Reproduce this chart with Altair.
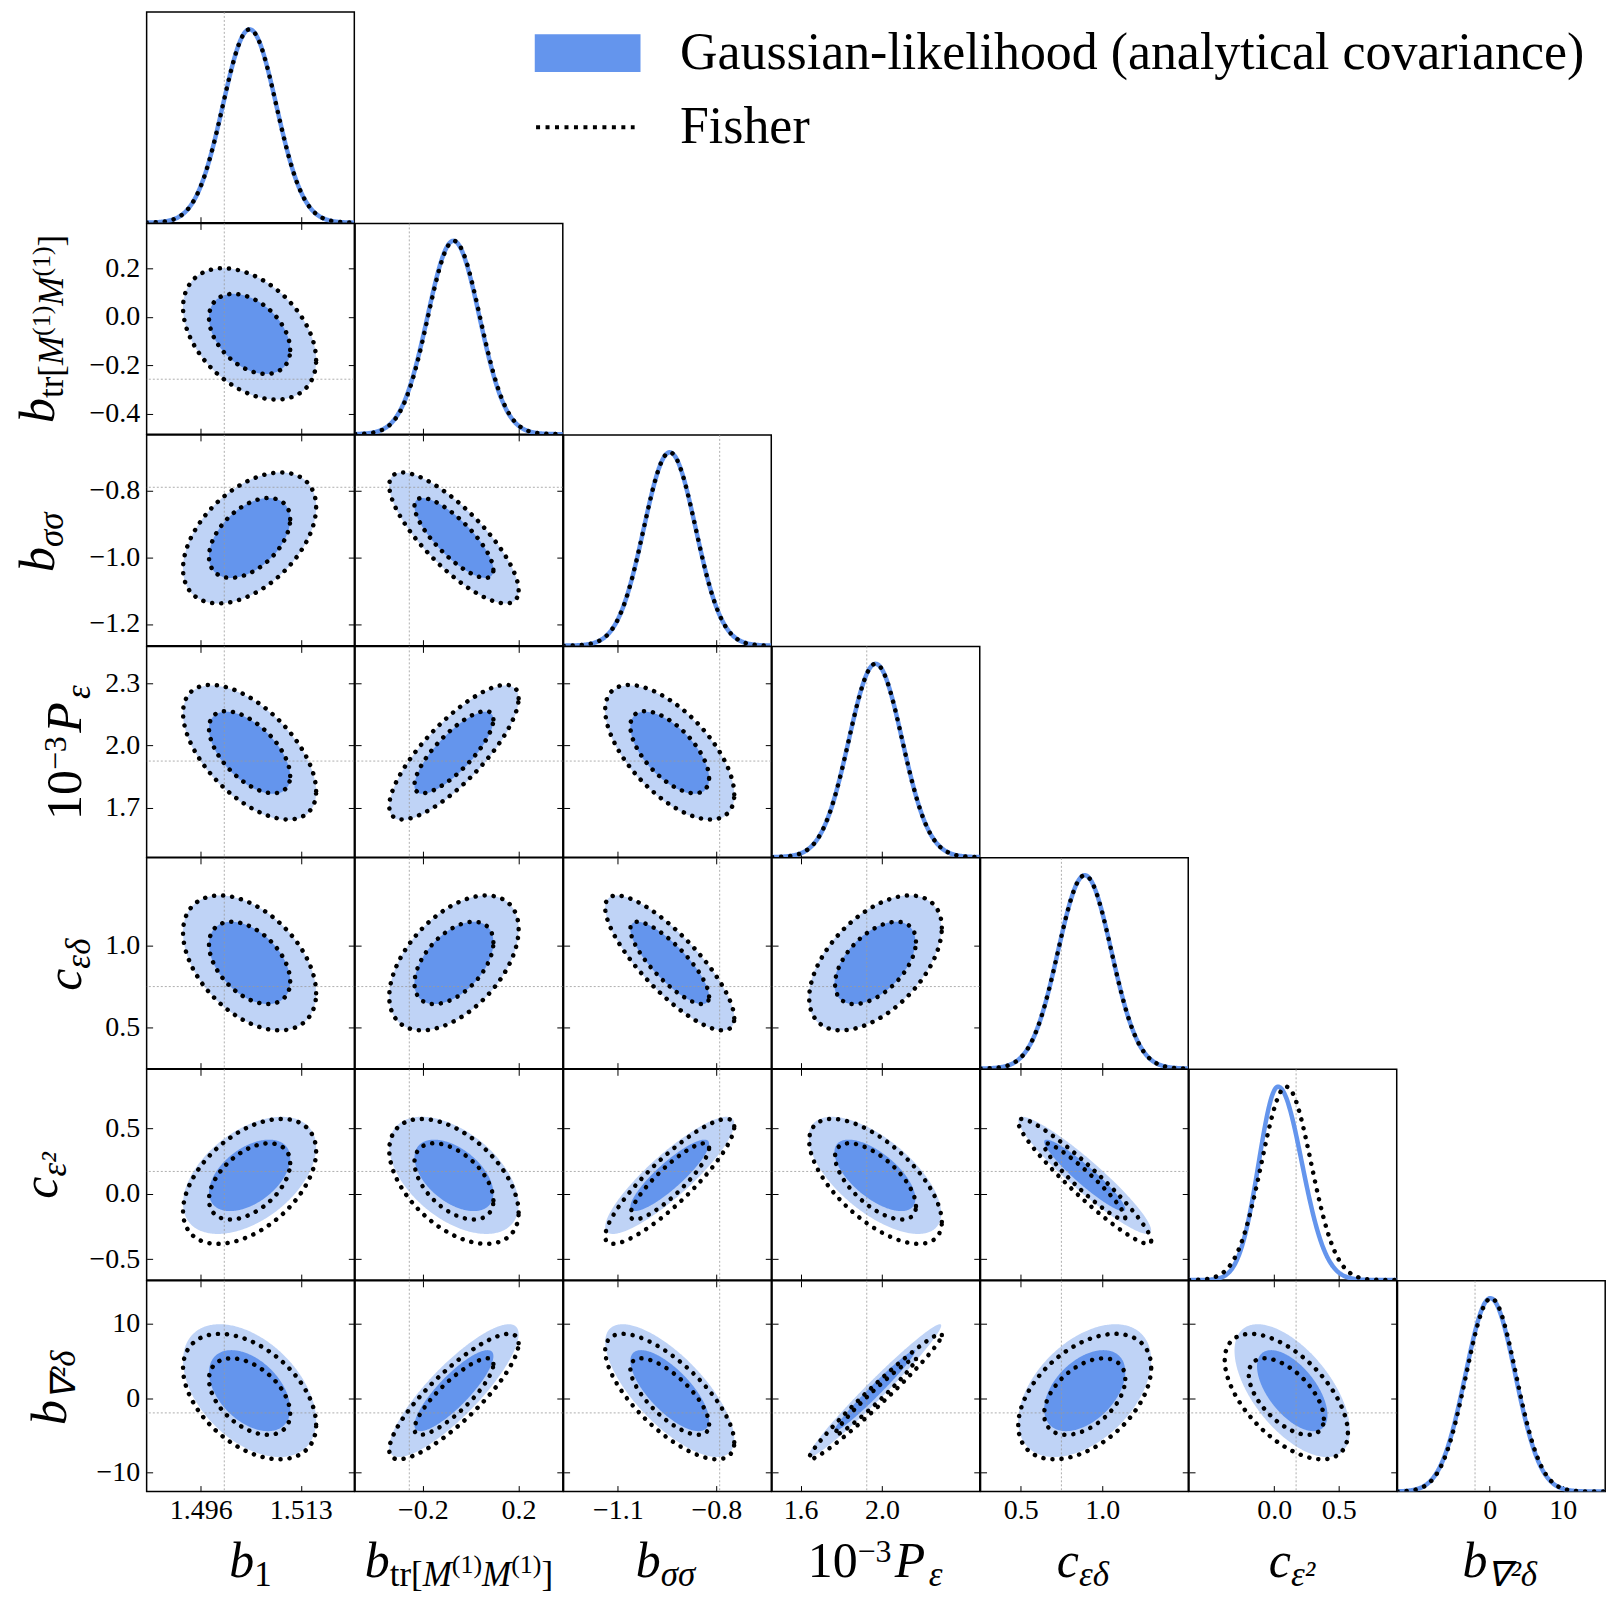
import numpy as np
import pandas as pd
import altair as alt

# ---------------- values ----------------
N_PARAMS = 7
DOMAIN_LO = [1.4868, -0.484, -1.265, 1.46, 0.254, -0.66, -12.6]
DOMAIN_HI = [1.5221, 0.386, -0.633, 2.48, 1.528, 0.95, 15.8]
FIDUCIAL = [1.5, -0.257, -0.79, 1.925, 0.75, 0.17, -2.0]
X_TICKS = [[1.496, 1.513], [-0.2, 0.2], [-1.1, -0.8], [1.6, 2.0], [0.5, 1.0], [0.0, 0.5], [0, 10]]
Y_TICKS = [[], [-0.4, -0.2, 0.0, 0.2], [-1.2, -1.0, -0.8], [1.7, 2.0, 2.3], [0.5, 1.0],
           [-0.5, 0.0, 0.5], [-10, 0, 10]]
TICK_FORMAT = [".3f", ".1f", ".1f", ".1f", ".1f", ".1f", "d"]

# Fisher forecast (means, 1-sigma, correlations)
FISHER_MEAN = [1.5043, -0.070, -0.942, 1.968, 0.893, 0.094, 0.2]
FISHER_SIGMA = [0.00455, 0.109, 0.079, 0.131, 0.164, 0.192, 3.4]
FISHER_CORR = [
    [],
    [-0.40],
    [0.47, -0.80],
    [-0.58, 0.80, -0.63],
    [-0.45, 0.50, -0.82, 0.52],
    [0.48, -0.50, 0.88, -0.65, -0.95],
    [-0.45, 0.85, -0.73, 0.98, 0.46, -0.58],
]
# Gaussian-likelihood (analytical covariance): 2D contours
GAUSS_MEAN = [1.5043, -0.070, -0.942, 1.965, 0.893, 0.14, 1.0]
GAUSS_SIGMA = [0.00455, 0.109, 0.079, 0.131, 0.164, 0.18, 3.6]
GAUSS_CORR = [
    [],
    [-0.40],
    [0.47, -0.80],
    [-0.58, 0.80, -0.63],
    [-0.45, 0.50, -0.82, 0.52],
    [0.48, -0.50, 0.88, -0.65, -0.94],
    [-0.45, 0.85, -0.73, 0.98, 0.46, -0.60],
]
# Gaussian-likelihood: 1D marginals (mode, lower / upper width)
GAUSS_1D_MODE = [1.5043, -0.072, -0.942, 1.968, 0.893, 0.03, 0.1]
GAUSS_1D_SIG_LO = [0.00455, 0.109, 0.079, 0.131, 0.164, 0.15, 3.4]
GAUSS_1D_SIG_HI = [0.00455, 0.109, 0.079, 0.131, 0.164, 0.185, 3.4]

# 68% / 95% two-dimensional contour levels (delta chi^2 = 2.30, 6.18)
CONTOUR_DCHI2 = [2.30, 6.18]
DIAG_YMAX = 1.09

G_LABEL = "Gaussian-likelihood (analytical covariance)"
F_LABEL = "Fisher"

# axis-title pieces: (text, font size, shift across the text, style, align, offset along the text)
TITLE_PIECES = [
    [("b", 50, 0, "italic", "right", 3.75), ("1", 35, 9, "normal", "left", 3.75)],
    [("b", 50, 0, "italic", "right", -69.35), ("tr[", 35, 9, "normal", "left", -69.35),
     ("M", 35, 9, "italic", "left", -36.35), ("(1)", 26, -4, "normal", "left", -7.15),
     ("M", 35, 9, "italic", "left", 23.15), ("(1)", 26, -4, "normal", "left", 52.35),
     ("]", 35, 9, "normal", "left", 82.65)],
    [("b", 50, 0, "italic", "right", -6.75), ("σσ", 35, 9, "italic", "left", -6.75)],
    [("10", 50, 0, "normal", "right", -18.4), ("−3", 32, -15, "normal", "left", -18.4),
     ("P", 50, 0, "italic", "left", 19.0), ("ε", 35, 9, "italic", "left", 53.0)],
    [("c", 50, 0, "italic", "right", -5.4), ("εδ", 35, 9, "italic", "left", -5.4)],
    [("c", 50, 0, "italic", "right", -1.9), ("ε²", 35, 9, "italic", "left", -1.9)],
    [("b", 50, 0, "italic", "right", -14.0), ("∇²δ", 35, 9, "italic", "left", -14.0)],
]
Y_TITLE_BASELINE = [0, -92.7, -92.7, -65.7, -65.7, -89.7, -80.7]
X_TITLE_BASELINE = 86.0

# ---------------- styling ----------------
W, H = 208.2, 211.3
TICK = 6
FONT = "Liberation Serif"
LIGHT = "#BFD3F6"
DARK = "#6495ED"
FID_COLOR = "#9a9a9a"

fill_enc = alt.Fill(
    "kind_g:N",
    scale=alt.Scale(domain=[G_LABEL], range=[DARK]),
    legend=alt.Legend(title=None, orient="none", legendX=416.1, legendY=15.3, padding=0,
                      symbolType="M-2.79,-1H2.79V1H-2.79Z", symbolSize=1444,
                      symbolStrokeWidth=0, symbolOpacity=1, labelFont=FONT,
                      labelFontSize=52, labelColor="black", labelOffset=66.6,
                      labelLimit=2000),
)
stroke_enc = alt.Stroke(
    "kind_f:N",
    scale=alt.Scale(domain=[F_LABEL], range=["black"]),
    legend=alt.Legend(title=None, orient="none", legendX=413.8, legendY=89.5, padding=0,
                      symbolType="M-2.6,0H2.6", symbolSize=1444, symbolStrokeWidth=4,
                      symbolDash=[4, 5.5], labelFont=FONT, labelFontSize=52,
                      labelColor="black", labelOffset=68.9, labelLimit=2000),
)


def axis_x(j, orient, labels):
    return alt.Axis(orient=orient, values=X_TICKS[j], format=TICK_FORMAT[j], labels=labels,
                    title=None, grid=False, domain=False, ticks=True, tickSize=TICK,
                    offset=-TICK, tickColor="black", tickWidth=1, labelFont=FONT,
                    labelFontSize=28, labelColor="black", labelPadding=4.5,
                    labelFlush=False, labelOverlap=False)


def axis_y(i, orient, labels):
    return alt.Axis(orient=orient, values=Y_TICKS[i], format=TICK_FORMAT[i], labels=labels,
                    title=None, grid=False, domain=False, ticks=True, tickSize=TICK,
                    offset=-TICK, tickColor="black", tickWidth=1, labelFont=FONT,
                    labelFontSize=28, labelColor="black", labelPadding=7,
                    labelFlush=False, labelOverlap=False)


def band_df(mx, my, sx, sy, rho, dchi2, extra=None):
    k = np.sqrt(dchi2)
    u = np.cos(np.linspace(np.pi, 0, 181))
    s = np.sqrt(np.clip(1 - u ** 2, 0, None))
    r = np.sqrt(1 - rho ** 2)
    df = pd.DataFrame({
        "x": mx + k * sx * u,
        "ylo": my + k * sy * (rho * u - r * s),
        "yhi": my + k * sy * (rho * u + r * s),
    })
    if extra:
        for key, val in extra.items():
            df[key] = val
    return df


def loop_df(mx, my, sx, sy, rho):
    frames = []
    for lvl, dchi2 in enumerate(CONTOUR_DCHI2):
        k = np.sqrt(dchi2)
        t = np.linspace(0, 2 * np.pi, 241)
        u, v = np.cos(t), np.sin(t)
        frames.append(pd.DataFrame({
            "x": mx + k * sx * u,
            "y": my + k * sy * (rho * u + np.sqrt(1 - rho ** 2) * v),
            "o": np.arange(len(t)),
            "lvl": lvl,
            "kind_f": F_LABEL,
        }))
    return pd.concat(frames, ignore_index=True)


def title_layers(p, horizontal, ax, ay):
    out = []
    for text, size, shift, style, align, off in TITLE_PIECES[p]:
        out.append(
            alt.Chart(pd.DataFrame({"t": [text]}))
            .mark_text(align=align, baseline="alphabetic", dx=off, dy=shift,
                       angle=0 if horizontal else 270, font=FONT, fontSize=size,
                       fontStyle=style, color="black")
            .encode(text="t:N", x=alt.value(ax), y=alt.value(ay))
        )
    return out


def decorations(i, j):
    layers = []
    if i == N_PARAMS - 1:
        layers += title_layers(j, True, W / 2, H + X_TITLE_BASELINE)
    if j == 0 and i >= 1:
        layers += title_layers(i, False, Y_TITLE_BASELINE[i], H / 2)
    return layers


def fid_rule():
    return dict(color=FID_COLOR, strokeWidth=0.8, strokeDash=[2, 2])


def panel_2d(i, j):
    xs = alt.Scale(domain=[DOMAIN_LO[j], DOMAIN_HI[j]], nice=False, zero=False)
    ys = alt.Scale(domain=[DOMAIN_LO[i], DOMAIN_HI[i]], nice=False, zero=False)
    gm = (GAUSS_MEAN[j], GAUSS_MEAN[i], GAUSS_SIGMA[j], GAUSS_SIGMA[i], GAUSS_CORR[i][j])
    fm = (FISHER_MEAN[j], FISHER_MEAN[i], FISHER_SIGMA[j], FISHER_SIGMA[i], FISHER_CORR[i][j])

    outer = alt.Chart(band_df(*gm, CONTOUR_DCHI2[1])).mark_area(color=LIGHT, clip=True).encode(
        x=alt.X("x:Q", scale=xs, axis=axis_x(j, "bottom", i == N_PARAMS - 1)),
        y=alt.Y("yhi:Q", scale=ys, axis=axis_y(i, "left", j == 0)),
        y2="ylo:Q",
    )
    inner = alt.Chart(band_df(*gm, CONTOUR_DCHI2[0], {"kind_g": G_LABEL})).mark_area(
        clip=True, opacity=1).encode(
        x=alt.X("x:Q", scale=xs, axis=None),
        y=alt.Y("yhi:Q", scale=ys, axis=None),
        y2="ylo:Q",
        fill=fill_enc,
    )
    vrule = alt.Chart(pd.DataFrame({"v": [FIDUCIAL[j]]})).mark_rule(**fid_rule()).encode(
        x=alt.X("v:Q", scale=xs, axis=axis_x(j, "top", False)))
    hrule = alt.Chart(pd.DataFrame({"v": [FIDUCIAL[i]]})).mark_rule(**fid_rule()).encode(
        y=alt.Y("v:Q", scale=ys, axis=axis_y(i, "right", False)))
    fisher = alt.Chart(loop_df(*fm)).mark_line(
        strokeDash=[0.1, 9], strokeCap="round", strokeWidth=4.5, clip=True).encode(
        x=alt.X("x:Q", scale=xs, axis=None),
        y=alt.Y("y:Q", scale=ys, axis=None),
        order="o:Q",
        detail="lvl:N",
        stroke=stroke_enc,
    )
    layers = [outer, inner, vrule, hrule, fisher] + decorations(i, j)
    return alt.layer(*layers).resolve_axis(x="independent", y="independent").properties(
        width=W, height=H)


def panel_diag(i):
    xs = alt.Scale(domain=[DOMAIN_LO[i], DOMAIN_HI[i]], nice=False, zero=False)
    yd = alt.Scale(domain=[0, DIAG_YMAX], nice=False, zero=False)
    x = np.linspace(DOMAIN_LO[i], DOMAIN_HI[i], 400)
    sig_g = np.where(x < GAUSS_1D_MODE[i], GAUSS_1D_SIG_LO[i], GAUSS_1D_SIG_HI[i])
    df = pd.DataFrame({
        "x": x,
        "yg": np.exp(-0.5 * ((x - GAUSS_1D_MODE[i]) / sig_g) ** 2),
        "yf": np.exp(-0.5 * ((x - FISHER_MEAN[i]) / FISHER_SIGMA[i]) ** 2),
        "kind_f": F_LABEL,
    })
    rule = alt.Chart(pd.DataFrame({"v": [FIDUCIAL[i]]})).mark_rule(**fid_rule()).encode(
        x=alt.X("v:Q", scale=xs, axis=axis_x(i, "bottom", i == N_PARAMS - 1)))
    blue = alt.Chart(df).mark_line(color=DARK, strokeWidth=4.5, clip=True).encode(
        x=alt.X("x:Q", scale=xs, axis=None),
        y=alt.Y("yg:Q", scale=yd, axis=None),
    )
    fisher = alt.Chart(df).mark_line(
        strokeDash=[0.1, 9], strokeCap="round", strokeWidth=4.5, clip=True).encode(
        x=alt.X("x:Q", scale=xs, axis=None),
        y=alt.Y("yf:Q", scale=yd, axis=None),
        stroke=stroke_enc,
    )
    layers = [rule, blue, fisher] + decorations(i, i)
    return alt.layer(*layers).resolve_axis(x="independent", y="independent").properties(
        width=W, height=H)


def blank():
    return alt.Chart(pd.DataFrame({"z": [0]})).mark_point(opacity=0).encode(
        x=alt.X("z:Q", axis=None), y=alt.Y("z:Q", axis=None)
    ).properties(width=W, height=H, view=alt.ViewBackground(stroke="transparent"))


cells = []
for i in range(N_PARAMS):
    for j in range(N_PARAMS):
        if j < i:
            cells.append(panel_2d(i, j))
        elif j == i:
            cells.append(panel_diag(i))
        else:
            cells.append(blank())

chart = alt.concat(*cells, columns=N_PARAMS, spacing=0, bounds="flush").properties(
    padding={"left": 13, "top": 8, "right": 0, "bottom": 0}
).configure_view(stroke="black", strokeWidth=1.5).configure_axis(labelFont=FONT)

chart.save("out.html", embed_options={"renderer": "svg", "actions": False})
